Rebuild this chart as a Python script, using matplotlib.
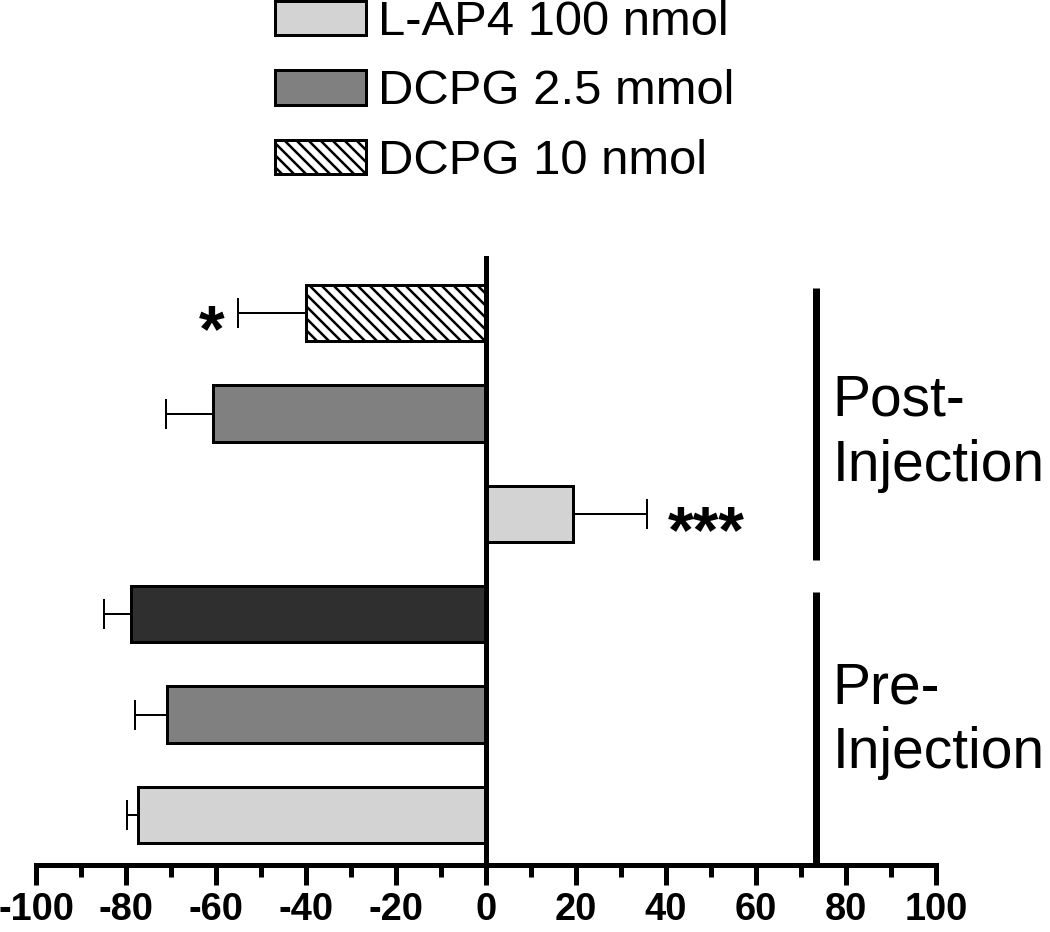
import matplotlib
matplotlib.use("Agg")
import matplotlib.pyplot as plt
from matplotlib.patches import Patch
from matplotlib.ticker import MultipleLocator

# data, bars listed bottom to top
groups = ["Pre", "Pre", "Pre", "Post", "Post", "Post"]
values = [-77.3, -70.9, -78.9, 19.3, -60.7, -40.0]
errors = [2.5, 7.1, 6.0, 16.5, 10.4, 15.1]
stars = ["", "", "", "***", "", "*"]
legend_labels = ["L-AP4 100 nmol", "DCPG 2.5 mmol", "DCPG 10 nmol"]
xticks = list(range(-100, 101, 20))

colors = ["#d3d3d3", "#808080", "#2f2f2f", "#d3d3d3", "#808080", "white"]
hatches = ["", "", "", "", "", "\\\\"]

plt.rcParams["font.family"] = ["Liberation Sans", "DejaVu Sans"]
plt.rcParams["axes.unicode_minus"] = False
plt.rcParams["hatch.linewidth"] = 2.5

# dpi 72 so that points == pixels
fig = plt.figure(figsize=(1050 / 72, 932 / 72), dpi=72)
ax = fig.add_axes([36 / 1050, 1 - 865 / 932, 900 / 1050, (865 - 258) / 932])

ys = list(range(len(values)))
bars = ax.barh(ys, values, height=0.56, color=colors, edgecolor="black",
               linewidth=3, zorder=2)
for b, h in zip(bars, hatches):
    if h:
        b.set_hatch(h)

# one-sided error bars pointing away from zero
tips = [v + e if v > 0 else v - e for v, e in zip(values, errors)]
ax.hlines(ys, values, tips, color="black", lw=2, zorder=1)
ax.plot(tips, ys, ls="none", marker="|", ms=30, mew=2, color="black", zorder=1)

star_fs = 66
for y, t, s in zip(ys, tips, stars):
    if not s:
        continue
    if t > 0:
        ax.annotate(s, (t, y), xytext=(21, -0.58 * star_fs), textcoords="offset points",
                    ha="left", va="baseline", fontsize=star_fs, fontweight="bold")
    else:
        ax.annotate(s, (t, y), xytext=(-14, -0.58 * star_fs), textcoords="offset points",
                    ha="right", va="baseline", fontsize=star_fs, fontweight="bold")

ax.set_xlim(-100, 100)
ax.set_ylim(-0.5, 5.55)
ax.set_xticks(xticks)
ax.set_xticklabels([str(t) for t in xticks], fontweight="bold", fontsize=38)
ax.xaxis.set_minor_locator(MultipleLocator(10))
ax.tick_params(axis="x", which="major", length=20, width=5, pad=7)
ax.tick_params(axis="x", which="minor", length=12, width=5)
ax.set_yticks([])

for side in ["top", "right"]:
    ax.spines[side].set_visible(False)
ax.spines["left"].set_position(("data", 0))
ax.spines["left"].set_linewidth(5)
ax.spines["bottom"].set_linewidth(5)

# group brackets and labels
ax.vlines(73.3, 2.54, 5.25, color="black", lw=7, clip_on=False)
ax.vlines(73.3, -0.5, 2.22, color="black", lw=7, clip_on=False)
ax.text(77, 3.98, "Post-", fontsize=57, ha="left", va="baseline")
ax.text(77, 3.33, "Injection", fontsize=57, ha="left", va="baseline")
ax.text(77, 1.11, "Pre-", fontsize=57, ha="left", va="baseline")
ax.text(77, 0.47, "Injection", fontsize=57, ha="left", va="baseline")

handles = [Patch(facecolor=colors[i], edgecolor="black", linewidth=3, hatch=hatches[i])
           for i in (0, 1, 5)]
fig.legend(handles, legend_labels, loc="upper left",
           bbox_to_anchor=(275 / 1050, 1.0), frameon=False, fontsize=49,
           handlelength=1.85, handleheight=0.70, handletextpad=0.25,
           labelspacing=0.5, borderpad=0, borderaxespad=0)

fig.savefig("out.png", dpi=72)
